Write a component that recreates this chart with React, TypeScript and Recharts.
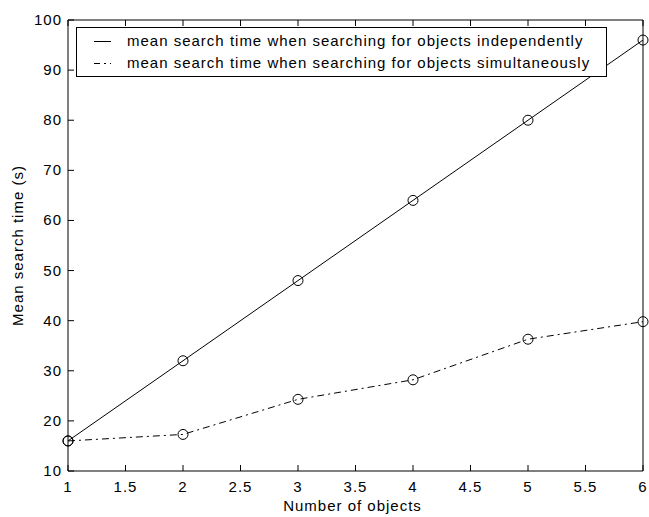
import React from 'react';
import { LineChart, Line, XAxis, YAxis, Label } from 'recharts';

// number of objects searched for
const objects = [1, 2, 3, 4, 5, 6];
// mean search time (s)
const independently = [16, 32, 48, 64, 80, 96];
const simultaneously = [16, 17.3, 24.3, 28.2, 36.3, 39.8];

const xTicks = [1, 1.5, 2, 2.5, 3, 3.5, 4, 4.5, 5, 5.5, 6];
const yTicks = [10, 20, 30, 40, 50, 60, 70, 80, 90, 100];

const seriesNames = [
  'mean search time when searching for objects independently',
  'mean search time when searching for objects simultaneously',
];

const data = objects.map((n, i) => ({
  n,
  indep: independently[i],
  simul: simultaneously[i],
}));

const FONT = '"Liberation Sans", Arial, sans-serif';
const TICK = 6;
const DASHDOT = '7 4 2 4';

const BottomTick = (props: any) => {
  const { x, y, payload } = props;
  return (
    <g>
      <line x1={x} y1={y} x2={x} y2={y - TICK} stroke="#000" />
      <text x={x} y={y + 21} textAnchor="middle" fontSize={15} fontFamily={FONT} letterSpacing={1} fill="#000">
        {payload.value}
      </text>
    </g>
  );
};

const TopTick = (props: any) => {
  const { x, y } = props;
  return <line x1={x} y1={y} x2={x} y2={y + TICK} stroke="#000" />;
};

const LeftTick = (props: any) => {
  const { x, y, payload } = props;
  return (
    <g>
      <line x1={x} y1={y} x2={x + TICK} y2={y} stroke="#000" />
      <text x={x - 6} y={y + 5} textAnchor="end" fontSize={15} fontFamily={FONT} letterSpacing={1} fill="#000">
        {payload.value}
      </text>
    </g>
  );
};

const RightTick = (props: any) => {
  const { x, y } = props;
  return <line x1={x} y1={y} x2={x - TICK} y2={y} stroke="#000" />;
};

const Circle = (props: any) => {
  const { cx, cy } = props;
  return <circle cx={cx} cy={cy} r={5} fill="none" stroke="#000" strokeWidth={1} />;
};

export default function App() {
  return (
    <div style={{ position: 'absolute', left: 0, top: 0, width: 649, height: 517, background: '#fff' }}>
      <LineChart width={649} height={517} data={data} margin={{ top: 19, right: 5, bottom: 6, left: 8 }}>
        <XAxis
          dataKey="n"
          type="number"
          domain={[1, 6]}
          ticks={xTicks}
          height={40}
          tickSize={0}
          tickMargin={0}
          tick={<BottomTick />}
          tickLine={false}
          axisLine={{ stroke: '#000' }}
          interval={0}
        >
          <Label
            content={(p: any) => {
              const vb = p.viewBox;
              return (
                <text x={vb.x + vb.width / 2 - 3} y={vb.y + 40} textAnchor="middle" fontSize={15} fontFamily={FONT} letterSpacing={1} fill="#000">
                  Number of objects
                </text>
              );
            }}
          />
        </XAxis>
        <XAxis
          xAxisId="top"
          orientation="top"
          dataKey="n"
          type="number"
          domain={[1, 6]}
          ticks={xTicks}
          height={1}
          tickSize={0}
          tickMargin={0}
          tick={<TopTick />}
          tickLine={false}
          axisLine={{ stroke: '#000' }}
          interval={0}
        />
        <YAxis
          type="number"
          domain={[10, 100]}
          ticks={yTicks}
          width={60}
          tickSize={0}
          tickMargin={0}
          tick={<LeftTick />}
          tickLine={false}
          axisLine={{ stroke: '#000' }}
          interval={0}
        >
          <Label
            content={(p: any) => {
              const vb = p.viewBox;
              const cx = 17;
              const cy = vb.y + vb.height / 2;
              return (
                <text
                  x={cx}
                  y={cy}
                  transform={`rotate(-90 ${cx} ${cy})`}
                  textAnchor="middle"
                  dominantBaseline="central"
                  fontSize={15}
                  fontFamily={FONT}
                  letterSpacing={1}
                  fill="#000"
                >
                  Mean search time (s)
                </text>
              );
            }}
          />
        </YAxis>
        <YAxis
          yAxisId="right"
          orientation="right"
          type="number"
          domain={[10, 100]}
          ticks={yTicks}
          width={1}
          tickSize={0}
          tickMargin={0}
          tick={<RightTick />}
          tickLine={false}
          axisLine={{ stroke: '#000' }}
          interval={0}
        />
        <Line
          dataKey="indep"
          stroke="#000"
          strokeWidth={1}
          dot={<Circle />}
          activeDot={false}
          isAnimationActive={false}
        />
        <Line
          dataKey="simul"
          stroke="#000"
          strokeWidth={1}
          strokeDasharray={DASHDOT}
          dot={<Circle />}
          activeDot={false}
          isAnimationActive={false}
        />
      </LineChart>
      <div
        style={{
          position: 'absolute',
          left: 76,
          top: 27,
          width: 529,
          height: 48,
          border: '1px solid #000',
          background: '#fff',
          fontFamily: FONT,
          fontSize: 15,
          letterSpacing: 1,
          lineHeight: '16px',
          color: '#000',
        }}
      >
        {seriesNames.map((name, i) => (
          <div key={name} style={{ position: 'absolute', left: 0, top: i === 0 ? 5 : 27, height: 16, display: 'flex', alignItems: 'center', whiteSpace: 'nowrap' }}>
            <svg width={50} height={16} style={{ display: 'block' }}>
              <line x1={17} y1={8.5} x2={34} y2={8.5} stroke="#000" strokeDasharray={i === 0 ? undefined : '6 4 2 4'} />
            </svg>
            <span>{name}</span>
          </div>
        ))}
      </div>
    </div>
  );
}
